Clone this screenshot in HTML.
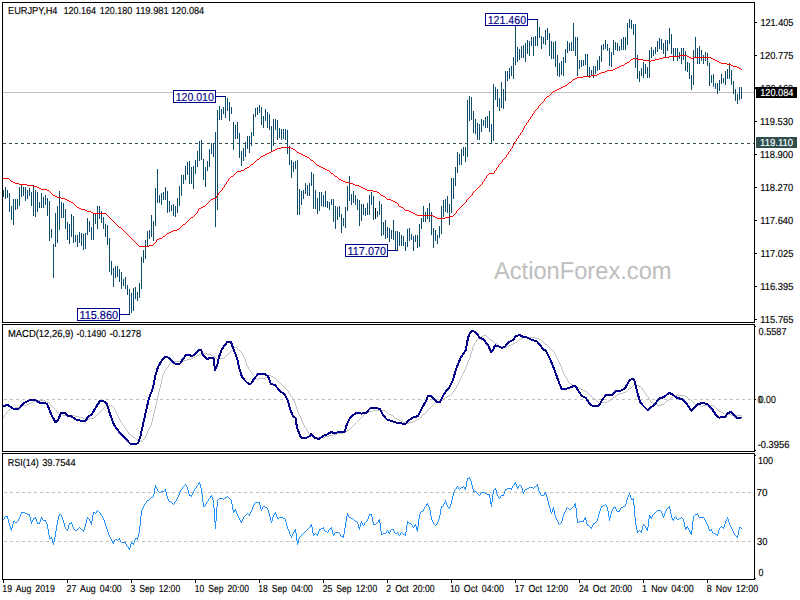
<!DOCTYPE html>
<html><head><meta charset="utf-8"><title>EURJPY H4</title>
<style>html,body{margin:0;padding:0;background:#fff;overflow:hidden}svg{display:block}text{font-family:"Liberation Sans",sans-serif}</style>
</head><body>
<svg width="800" height="600" viewBox="0 0 800 600" text-rendering="geometricPrecision">
<rect x="0" y="0" width="800" height="600" fill="#fff"/>
<text x="494" y="279" font-size="24.5" fill="#bebebe" textLength="177.5" lengthAdjust="spacingAndGlyphs">ActionForex.com</text>
<g shape-rendering="crispEdges">
<rect x="3" y="92" width="751" height="1" fill="#c0c0c0"/>
<line x1="3" y1="143.5" x2="754" y2="143.5" stroke="#2f4f4f" stroke-width="1" stroke-dasharray="3,3"/>
<line x1="4" y1="399.5" x2="754" y2="399.5" stroke="#c0c0c0" stroke-width="1" stroke-dasharray="3,3"/>
<line x1="4" y1="492.5" x2="754" y2="492.5" stroke="#c0c0c0" stroke-width="1" stroke-dasharray="3,3"/>
<line x1="4" y1="541.5" x2="754" y2="541.5" stroke="#c0c0c0" stroke-width="1" stroke-dasharray="3,3"/>
</g>
<path d="M3.5 190V197M5.5 187V199M7.5 190V198M9.5 193V212M11.5 206V220M13.5 199V225M15.5 199V210M17.5 199V209M19.5 187V206M21.5 185V197M23.5 187V196M25.5 187V201M27.5 190V199M29.5 188V196M31.5 192V206M33.5 185V216M35.5 190V217M37.5 192V212M39.5 202V208M41.5 193V208M43.5 197V208M45.5 195V205M47.5 198V216M49.5 201V241M51.5 229V238M53.5 244V278M55.5 213V247M57.5 206V243M59.5 191V230M61.5 202V218M63.5 203V218M65.5 209V229M67.5 222V240M69.5 224V244M71.5 214V237M73.5 216V243M75.5 235V242M77.5 235V247M79.5 232V243M81.5 233V246M83.5 234V250M85.5 233V249M87.5 218V235M89.5 221V232M91.5 227V240M93.5 213V240M95.5 213V224M97.5 206V229M99.5 206V219M101.5 211V223M103.5 217V229M105.5 224V237M107.5 225V245M109.5 238V272M111.5 261V275M113.5 268V287M115.5 266V278M117.5 266V277M119.5 269V282M121.5 272V289M123.5 279V286M125.5 277V289M127.5 285V295M129.5 289V315M131.5 293V313M133.5 288V311M135.5 287V299M137.5 292V301M139.5 283V298M141.5 257V289M143.5 250V263M145.5 240V259M147.5 231V247M149.5 230V239M151.5 215V237M153.5 221V241M155.5 188V226M157.5 169V203M159.5 195V203M161.5 193V205M163.5 192V200M165.5 187V200M167.5 191V213M169.5 201V212M171.5 205V211M173.5 204V216M175.5 206V217M177.5 198V213M179.5 186V206M181.5 175V196M183.5 175V184M185.5 166V180M187.5 162V175M189.5 161V184M191.5 167V184M193.5 166V189M195.5 160V174M197.5 151V167M199.5 141V161M201.5 140V160M203.5 159V180M205.5 167V187M207.5 161V171M209.5 149V167M211.5 143V154M213.5 143V157M215.5 132V227M217.5 110V210M219.5 106V120M221.5 109V120M223.5 107V114M225.5 96V118M227.5 98V111M229.5 102V121M231.5 107V114M233.5 122V150M235.5 125V139M237.5 122V139M239.5 133V158M241.5 151V166M243.5 148V161M245.5 142V157M247.5 136V149M249.5 136V153M251.5 132V146M253.5 114V136M255.5 108V117M257.5 107V115M259.5 105V113M261.5 107V125M263.5 116V128M265.5 109V121M267.5 112V128M269.5 114V130M271.5 126V151M273.5 119V146M275.5 119V130M277.5 120V140M279.5 128V138M281.5 129V140M283.5 129V139M285.5 129V140M287.5 130V154M289.5 146V165M291.5 160V178M293.5 162V172M295.5 161V169M297.5 160V215M299.5 189V215M301.5 191V205M303.5 190V199M305.5 183V194M307.5 185V196M309.5 183V196M311.5 172V186M313.5 174V209M315.5 190V209M317.5 198V214M319.5 192V211M321.5 192V206M323.5 195V207M325.5 191V207M327.5 201V208M329.5 202V210M331.5 199V205M333.5 199V222M335.5 206V229M337.5 207V220M339.5 206V217M341.5 214V233M343.5 218V226M345.5 207V228M347.5 186V211M349.5 176V201M351.5 194V205M353.5 191V203M355.5 195V205M357.5 199V210M359.5 200V226M361.5 204V221M363.5 204V215M365.5 208V216M367.5 203V215M369.5 195V215M371.5 192V205M373.5 196V220M375.5 208V219M377.5 211V217M379.5 201V215M381.5 204V236M383.5 222V235M385.5 220V239M387.5 227V238M389.5 228V242M391.5 230V239M393.5 220V240M395.5 231V251M397.5 231V251M399.5 232V246M401.5 235V246M403.5 236V246M405.5 242V251M407.5 229V247M409.5 228V241M411.5 234V240M413.5 236V251M415.5 235V242M417.5 235V248M419.5 224V247M421.5 218V229M423.5 206V222M425.5 212V222M427.5 208V219M429.5 203V222M431.5 212V235M433.5 228V248M435.5 230V241M437.5 235V244M439.5 226V238M441.5 206V234M443.5 200V217M445.5 199V212M447.5 196V213M449.5 204V225M451.5 178V213M453.5 178V199M455.5 167V186M457.5 152V173M459.5 154V165M461.5 149V165M463.5 147V156M465.5 147V162M467.5 100V157M469.5 96V121M471.5 97V120M473.5 111V133M475.5 119V134M477.5 123V140M479.5 124V140M481.5 119V132M483.5 120V126M485.5 117V128M487.5 116V128M489.5 111V132M491.5 124V143M493.5 84V141M495.5 87V100M497.5 89V107M499.5 98V111M501.5 82V108M503.5 89V109M505.5 71V101M507.5 71V81M509.5 68V79M511.5 66V76M513.5 57V79M515.5 26V65M517.5 47V62M519.5 49V60M521.5 46V58M523.5 45V58M525.5 43V62M527.5 40V54M529.5 41V56M531.5 37V46M533.5 37V56M535.5 36V46M537.5 19V46M539.5 27V38M541.5 36V49M543.5 37V44M545.5 30V45M547.5 28V40M549.5 33V56M551.5 41V59M553.5 42V59M555.5 41V67M557.5 55V76M559.5 63V77M561.5 61V75M563.5 57V76M565.5 49V63M567.5 41V53M569.5 43V51M571.5 42V51M573.5 23V51M575.5 37V56M577.5 37V76M579.5 60V69M581.5 60V67M583.5 60V66M585.5 54V65M587.5 54V76M589.5 67V78M591.5 70V76M593.5 66V78M595.5 66V74M597.5 60V71M599.5 56V70M601.5 45V62M603.5 44V50M605.5 40V49M607.5 44V51M609.5 48V66M611.5 52V67M613.5 40V55M615.5 42V50M617.5 43V51M619.5 46V51M621.5 39V50M623.5 37V50M625.5 37V50M627.5 23V45M629.5 19V28M631.5 20V29M633.5 24V35M635.5 24V68M637.5 55V79M639.5 71V82M641.5 68V76M643.5 62V78M645.5 64V74M647.5 67V78M649.5 50V78M651.5 47V58M653.5 50V56M655.5 47V54M657.5 41V52M659.5 38V49M661.5 39V50M663.5 43V54M665.5 40V57M667.5 40V51M669.5 28V44M671.5 34V54M673.5 48V61M675.5 48V57M677.5 48V61M679.5 52V59M681.5 48V64M683.5 48V60M685.5 51V71M687.5 62V72M689.5 63V79M691.5 75V90M693.5 50V85M695.5 37V58M697.5 48V64M699.5 46V64M701.5 50V61M703.5 55V64M705.5 52V61M707.5 53V66M709.5 63V86M711.5 75V83M713.5 74V87M715.5 83V89M717.5 83V94M719.5 80V91M721.5 74V84M723.5 78V83M725.5 71V85M727.5 69V79M729.5 63V79M731.5 70V85M733.5 81V94M735.5 89V101M737.5 94V104M739.5 87V100M741.5 87V99" stroke="#0c4b69" stroke-width="1" fill="none" shape-rendering="crispEdges"/>
<rect x="375" y="208" width="1" height="11" fill="#000" shape-rendering="crispEdges"/>
<path d="M483 335h3v1h-3zM481 336h2v1h-2zM486 336h1v1h-1zM479 337h2v1h-2zM487 337h1v1h-1zM523 337h12v1h-12zM478 338h1v1h-1zM488 338h1v1h-1zM521 338h2v1h-2zM535 338h4v1h-4zM477 339h1v1h-1zM489 339h2v1h-2zM519 339h2v1h-2zM539 339h2v1h-2zM491 340h2v1h-2zM518 340h1v1h-1zM541 340h1v1h-1zM476 340h1v2h-1zM493 341h1v1h-1zM517 341h1v1h-1zM542 341h1v1h-1zM475 342h1v1h-1zM494 342h1v1h-1zM515 342h2v1h-2zM543 342h1v1h-1zM495 343h2v1h-2zM513 343h2v1h-2zM544 343h1v1h-1zM474 343h1v2h-1zM497 344h1v1h-1zM511 344h2v1h-2zM545 344h2v1h-2zM498 345h1v1h-1zM509 345h2v1h-2zM547 345h1v1h-1zM473 345h1v2h-1zM499 346h6v1h-6zM507 346h2v1h-2zM548 346h1v1h-1zM233 347h4v1h-4zM505 347h2v1h-2zM549 347h1v1h-1zM472 347h1v4h-1zM237 348h1v1h-1zM550 348h1v1h-1zM232 348h1v2h-1zM238 349h1v1h-1zM551 349h1v1h-1zM231 350h1v1h-1zM239 350h1v1h-1zM552 350h1v1h-1zM240 351h1v1h-1zM553 351h1v1h-1zM230 351h1v2h-1zM471 351h1v3h-1zM241 352h1v1h-1zM554 352h1v2h-1zM203 353h4v1h-4zM229 353h1v1h-1zM242 353h1v2h-1zM199 354h4v1h-4zM207 354h4v1h-4zM227 354h2v1h-2zM555 354h1v2h-1zM470 354h1v4h-1zM197 355h2v1h-2zM211 355h2v1h-2zM226 355h1v1h-1zM243 355h1v2h-1zM195 356h2v1h-2zM213 356h2v1h-2zM225 356h1v1h-1zM556 356h1v2h-1zM193 357h2v1h-2zM215 357h1v1h-1zM224 357h1v1h-1zM244 357h1v2h-1zM191 358h2v1h-2zM216 358h1v1h-1zM219 358h5v1h-5zM469 358h1v2h-1zM557 358h1v2h-1zM187 359h4v1h-4zM217 359h2v1h-2zM245 359h1v3h-1zM183 360h4v1h-4zM468 360h1v2h-1zM558 360h1v2h-1zM173 361h10v1h-10zM171 362h2v1h-2zM559 362h1v2h-1zM246 362h1v3h-1zM467 362h1v3h-1zM170 363h1v1h-1zM169 364h1v1h-1zM560 364h1v2h-1zM168 365h1v2h-1zM247 365h1v2h-1zM466 365h1v2h-1zM561 366h1v3h-1zM167 367h1v1h-1zM248 367h1v2h-1zM465 367h1v3h-1zM166 368h1v2h-1zM249 369h1v1h-1zM562 369h1v3h-1zM165 370h1v1h-1zM250 370h1v2h-1zM464 370h1v2h-1zM164 371h1v2h-1zM251 372h1v1h-1zM463 372h1v2h-1zM563 372h1v2h-1zM163 373h1v2h-1zM252 373h1v2h-1zM462 374h1v2h-1zM564 374h1v2h-1zM253 375h1v1h-1zM269 375h2v1h-2zM162 375h1v4h-1zM254 376h1v1h-1zM267 376h2v1h-2zM271 376h2v1h-2zM565 376h1v1h-1zM461 376h1v2h-1zM255 377h1v1h-1zM265 377h2v1h-2zM273 377h2v1h-2zM566 377h1v2h-1zM256 378h1v1h-1zM259 378h6v1h-6zM275 378h1v1h-1zM460 378h1v2h-1zM257 379h2v1h-2zM276 379h1v1h-1zM567 379h1v2h-1zM161 379h1v5h-1zM277 380h1v1h-1zM459 380h1v2h-1zM278 381h1v1h-1zM568 381h1v2h-1zM279 382h1v1h-1zM458 382h1v2h-1zM280 383h1v1h-1zM569 383h2v1h-2zM281 384h1v1h-1zM571 384h2v1h-2zM635 384h2v1h-2zM457 384h1v2h-1zM160 384h1v4h-1zM282 385h1v1h-1zM573 385h1v1h-1zM633 385h2v1h-2zM637 385h2v1h-2zM283 386h1v1h-1zM574 386h1v1h-1zM632 386h1v1h-1zM639 386h2v1h-2zM456 386h1v2h-1zM284 387h1v1h-1zM575 387h4v1h-4zM631 387h1v1h-1zM641 387h1v1h-1zM285 388h1v1h-1zM455 388h1v1h-1zM579 388h2v1h-2zM629 388h2v1h-2zM642 388h1v2h-1zM159 388h1v4h-1zM286 389h1v1h-1zM581 389h2v1h-2zM628 389h1v1h-1zM454 389h1v2h-1zM287 390h1v1h-1zM583 390h2v1h-2zM627 390h1v1h-1zM643 390h1v1h-1zM453 391h1v1h-1zM585 391h2v1h-2zM626 391h1v1h-1zM288 391h1v2h-1zM644 391h1v2h-1zM587 392h1v1h-1zM623 392h3v1h-3zM452 392h1v2h-1zM158 392h1v4h-1zM289 393h1v1h-1zM588 393h1v1h-1zM619 393h4v1h-4zM645 393h1v1h-1zM451 394h1v1h-1zM589 394h1v1h-1zM617 394h2v1h-2zM290 394h1v2h-1zM646 394h1v2h-1zM449 395h2v1h-2zM590 395h1v1h-1zM616 395h1v1h-1zM675 395h10v1h-10zM291 396h1v1h-1zM447 396h2v1h-2zM591 396h1v1h-1zM615 396h1v1h-1zM647 396h1v1h-1zM673 396h2v1h-2zM685 396h2v1h-2zM157 396h1v5h-1zM445 397h2v1h-2zM592 397h1v1h-1zM613 397h2v1h-2zM671 397h2v1h-2zM687 397h1v1h-1zM292 397h1v2h-1zM648 397h1v2h-1zM443 398h2v1h-2zM593 398h2v1h-2zM612 398h1v1h-1zM670 398h1v1h-1zM688 398h1v1h-1zM441 399h2v1h-2zM595 399h1v1h-1zM611 399h1v1h-1zM649 399h1v1h-1zM669 399h1v1h-1zM689 399h2v1h-2zM293 399h1v2h-1zM37 400h8v1h-8zM439 400h2v1h-2zM596 400h1v1h-1zM609 400h2v1h-2zM667 400h2v1h-2zM691 400h1v1h-1zM650 400h1v2h-1zM33 401h4v1h-4zM45 401h2v1h-2zM437 401h2v1h-2zM597 401h1v1h-1zM607 401h2v1h-2zM666 401h1v1h-1zM692 401h1v1h-1zM294 401h1v2h-1zM156 401h1v4h-1zM31 402h2v1h-2zM47 402h2v1h-2zM435 402h2v1h-2zM598 402h1v1h-1zM601 402h6v1h-6zM651 402h2v1h-2zM665 402h1v1h-1zM693 402h1v1h-1zM29 403h2v1h-2zM49 403h1v1h-1zM434 403h1v1h-1zM599 403h2v1h-2zM653 403h2v1h-2zM664 403h1v1h-1zM694 403h1v1h-1zM295 403h1v3h-1zM27 404h2v1h-2zM50 404h1v1h-1zM433 404h1v1h-1zM655 404h2v1h-2zM661 404h3v1h-3zM695 404h4v1h-4zM23 405h4v1h-4zM51 405h1v1h-1zM109 405h3v1h-3zM432 405h1v1h-1zM657 405h4v1h-4zM699 405h2v1h-2zM703 405h11v1h-11zM155 405h1v4h-1zM19 406h4v1h-4zM52 406h1v1h-1zM105 406h4v1h-4zM112 406h1v1h-1zM431 406h1v1h-1zM701 406h2v1h-2zM714 406h1v1h-1zM296 406h1v3h-1zM15 407h4v1h-4zM53 407h1v1h-1zM104 407h1v1h-1zM113 407h1v1h-1zM430 407h1v1h-1zM715 407h1v1h-1zM11 408h4v1h-4zM54 408h1v1h-1zM103 408h1v1h-1zM429 408h1v1h-1zM716 408h1v1h-1zM114 408h1v2h-1zM9 409h2v1h-2zM55 409h1v1h-1zM102 409h1v1h-1zM428 409h1v1h-1zM717 409h1v1h-1zM297 409h1v3h-1zM154 409h1v4h-1zM8 410h1v1h-1zM101 410h1v1h-1zM373 410h12v1h-12zM427 410h1v1h-1zM718 410h1v1h-1zM56 410h1v2h-1zM115 410h1v2h-1zM7 411h1v1h-1zM369 411h4v1h-4zM385 411h2v1h-2zM719 411h2v1h-2zM100 411h1v2h-1zM426 411h1v2h-1zM57 412h2v1h-2zM367 412h2v1h-2zM387 412h1v1h-1zM721 412h2v1h-2zM6 412h1v2h-1zM116 412h1v2h-1zM298 412h1v2h-1zM59 413h2v1h-2zM99 413h1v1h-1zM365 413h2v1h-2zM388 413h1v1h-1zM425 413h1v1h-1zM723 413h2v1h-2zM153 413h1v5h-1zM5 414h1v1h-1zM61 414h2v1h-2zM97 414h2v1h-2zM364 414h1v1h-1zM389 414h2v1h-2zM423 414h2v1h-2zM725 414h6v1h-6zM117 414h1v2h-1zM299 414h1v2h-1zM63 415h12v1h-12zM96 415h1v1h-1zM363 415h1v1h-1zM391 415h2v1h-2zM422 415h1v1h-1zM731 415h11v1h-11zM4 415h1v2h-1zM75 416h4v1h-4zM95 416h1v1h-1zM362 416h1v1h-1zM393 416h1v1h-1zM421 416h1v1h-1zM118 416h1v2h-1zM300 416h1v2h-1zM3 417h1v1h-1zM79 417h4v1h-4zM94 417h1v1h-1zM361 417h1v1h-1zM394 417h1v1h-1zM420 417h1v1h-1zM83 418h4v1h-4zM89 418h5v1h-5zM360 418h1v1h-1zM395 418h2v1h-2zM419 418h1v1h-1zM119 418h1v2h-1zM301 418h1v3h-1zM152 418h1v4h-1zM87 419h2v1h-2zM359 419h1v1h-1zM397 419h2v1h-2zM417 419h2v1h-2zM358 420h1v1h-1zM399 420h2v1h-2zM415 420h2v1h-2zM120 420h1v2h-1zM357 421h1v1h-1zM401 421h2v1h-2zM413 421h2v1h-2zM302 421h1v2h-1zM121 422h1v1h-1zM356 422h1v1h-1zM403 422h4v1h-4zM409 422h4v1h-4zM151 422h1v3h-1zM355 423h1v1h-1zM407 423h2v1h-2zM122 423h1v2h-1zM303 423h1v2h-1zM354 424h1v1h-1zM123 425h1v1h-1zM353 425h1v1h-1zM150 425h1v2h-1zM304 425h1v2h-1zM352 426h1v1h-1zM124 426h1v2h-1zM305 427h1v1h-1zM351 427h1v1h-1zM149 427h1v2h-1zM125 428h1v1h-1zM350 428h1v1h-1zM306 428h1v2h-1zM349 429h1v1h-1zM126 429h1v2h-1zM148 429h1v2h-1zM347 430h2v1h-2zM307 430h1v2h-1zM127 431h1v1h-1zM346 431h1v1h-1zM147 431h1v3h-1zM343 432h3v1h-3zM128 432h1v2h-1zM308 432h1v2h-1zM337 433h6v1h-6zM129 434h2v1h-2zM309 434h2v1h-2zM333 434h4v1h-4zM146 434h1v2h-1zM131 435h1v1h-1zM311 435h2v1h-2zM329 435h4v1h-4zM132 436h1v1h-1zM313 436h2v1h-2zM325 436h4v1h-4zM145 436h1v2h-1zM133 437h2v1h-2zM315 437h10v1h-10zM135 438h1v1h-1zM144 438h1v1h-1zM136 439h1v1h-1zM143 439h1v1h-1zM137 440h4v1h-4zM142 440h1v1h-1zM141 441h1v1h-1z" fill="#c0c0c0" shape-rendering="crispEdges"/>
<polyline points="3,406 8,405 13,408.6 19,408.6 24,403 30,400 36,400.4 40,403 47,403.6 52,416 55.6,422.4 58,420 61,413 65,412.6 68,416 71,416 76,419.4 80,420.6 85.6,420.6 88,417 92,414 96,407 100,401 103,400.6 107,404 110,414 114,425 120,433 126,439 130,443.6 134,444.6 138,443 140,438 144,420 149,398 153,388 155,377 158,367 162,360 165,357 168,357.4 172,361 175,363.6 180,363.6 183,359 186,355 189,355 192,356 195,354.4 199,350 201,350 203,355 207,359 211,357.6 213.6,358 215,370 217,366 219,357 222,349 227,342.4 231,342 233,348 237,358 239,367 242,377 246,381.6 249,384 251,383.6 254,379 258,374 264,373.6 268,376 271,384 275,385 279,390 285,395 288,401 290,409 293,416 295.6,418 297,428 301,437.6 306,438 310,436 311,434 315,438 319,439 324,435.6 328,434 331,432 334,433 340,432 344.4,432.4 347,424 350,418 354,414.4 357,412.6 361,413.6 366,413 370,408.4 374,407.6 380,409 383,415 387,419.6 392,421 398,423.4 406,423.6 409,420 413,417.6 418,416 422,408 426,401 428,396 431,395.6 434,399 437,402.4 440,402 443,396 446,391 449,388 453,380 456,369 461,357 465.6,350.6 468,338 470,332.6 473,330.6 477,334 480,338 483,339 488,345 491,352 493,350 495,345.4 498,346 502,348 505,346.6 509,342 513,340 516,336 520,335 523,337 527,337.4 532,340 537,341.4 543,349 546,351 550,359 553,366 557,377 560,385 561.6,388.6 567,388.6 572,386.6 575.6,386 579,392 582,396 586,398 589,403 592,405.6 599,405.6 602,400 606,395 612,395 616,391 621,390.6 625,388.6 629,381 632,378.6 634,379.4 637,391 640,402 644,406.6 647.6,410 651,407.4 655,404 659,398.6 664,397 669,393 672,394 677,398 682,399 686,403 689,407 691.6,411 695,407 698,404 703,403 708,404.4 712,409 716,415 719,417.6 725,417 728,413 731,412 734,415 737,418.4 741,417.6" fill="none" stroke="#00008b" stroke-width="2" stroke-linejoin="round" stroke-linecap="round" shape-rendering="crispEdges"/>
<path d="M469 477h1v2h-1zM468 478h1v1h-1zM467 478h1v3h-1zM470 479h1v2h-1zM471 481h1v4h-1zM466 481h1v6h-1zM199 482h1v2h-1zM515 482h1v2h-1zM198 483h1v2h-1zM514 483h1v2h-1zM185 484h1v1h-1zM516 484h1v3h-1zM537 484h1v3h-1zM200 484h1v4h-1zM184 485h1v1h-1zM197 485h1v1h-1zM513 485h1v1h-1zM519 485h2v1h-2zM536 485h1v1h-1zM186 485h1v2h-1zM155 485h1v3h-1zM472 485h1v4h-1zM183 486h1v1h-1zM457 486h1v1h-1zM463 486h1v1h-1zM535 486h1v1h-1zM196 486h1v2h-1zM512 486h1v2h-1zM518 486h1v2h-1zM521 486h1v2h-1zM461 487h2v1h-2zM529 487h4v1h-4zM534 487h1v1h-1zM156 487h1v2h-1zM182 487h1v2h-1zM456 487h1v2h-1zM458 487h1v2h-1zM464 487h1v2h-1zM517 487h1v2h-1zM187 487h1v3h-1zM465 487h1v3h-1zM538 487h1v4h-1zM195 488h1v1h-1zM460 488h1v1h-1zM507 488h4v1h-4zM527 488h2v1h-2zM533 488h1v1h-1zM495 488h1v2h-1zM511 488h1v2h-1zM522 488h1v4h-1zM154 488h1v6h-1zM201 488h1v6h-1zM181 489h1v1h-1zM455 489h1v1h-1zM459 489h1v1h-1zM494 489h1v1h-1zM506 489h1v1h-1zM525 489h2v1h-2zM157 489h1v2h-1zM194 489h1v2h-1zM505 489h1v2h-1zM165 489h1v3h-1zM473 489h1v3h-1zM164 490h1v1h-1zM180 490h1v2h-1zM454 490h1v2h-1zM524 490h1v2h-1zM188 490h1v4h-1zM493 490h1v4h-1zM496 490h1v4h-1zM158 491h1v1h-1zM161 491h3v1h-3zM474 491h2v1h-2zM193 491h1v2h-1zM539 491h1v2h-1zM504 491h1v3h-1zM159 492h2v1h-2zM476 492h1v1h-1zM481 492h4v1h-4zM523 492h1v2h-1zM545 492h1v2h-1zM179 492h1v3h-1zM166 492h1v4h-1zM453 492h1v4h-1zM477 493h1v1h-1zM485 493h2v1h-2zM192 493h1v2h-1zM480 493h1v2h-1zM540 493h1v2h-1zM544 493h1v2h-1zM629 493h1v2h-1zM478 494h1v1h-1zM487 494h2v1h-2zM189 494h1v2h-1zM497 494h1v2h-1zM503 494h1v2h-1zM153 494h1v3h-1zM546 494h1v3h-1zM489 494h1v4h-1zM202 494h1v8h-1zM492 494h1v8h-1zM190 495h1v1h-1zM479 495h1v1h-1zM501 495h2v1h-2zM541 495h3v1h-3zM178 495h1v2h-1zM191 495h1v2h-1zM211 495h1v2h-1zM628 495h1v2h-1zM630 495h1v3h-1zM227 496h1v1h-1zM210 496h1v2h-1zM498 496h1v2h-1zM500 496h1v2h-1zM167 496h1v3h-1zM452 496h1v4h-1zM151 497h2v1h-2zM225 497h2v1h-2zM228 497h1v1h-1zM177 497h1v2h-1zM212 497h1v3h-1zM627 497h1v3h-1zM547 497h1v4h-1zM150 498h1v1h-1zM209 498h1v1h-1zM219 498h4v1h-4zM224 498h1v1h-1zM229 498h1v1h-1zM499 498h1v1h-1zM631 498h1v2h-1zM490 498h1v6h-1zM633 498h1v7h-1zM149 499h1v1h-1zM218 499h1v1h-1zM223 499h1v1h-1zM230 499h1v1h-1zM632 499h1v1h-1zM168 499h1v2h-1zM176 499h1v2h-1zM208 499h1v2h-1zM147 500h2v1h-2zM445 500h1v2h-1zM231 500h1v4h-1zM451 500h1v4h-1zM626 500h1v4h-1zM217 500h1v7h-1zM213 500h1v8h-1zM169 501h2v1h-2zM175 501h1v1h-1zM207 501h1v1h-1zM146 501h1v2h-1zM548 501h1v4h-1zM171 502h1v1h-1zM255 502h4v1h-4zM174 502h1v2h-1zM206 502h1v2h-1zM444 502h1v2h-1zM259 502h1v3h-1zM446 502h1v3h-1zM203 502h1v5h-1zM491 502h1v5h-1zM145 503h1v1h-1zM172 503h1v1h-1zM254 503h1v2h-1zM427 503h1v2h-1zM575 503h1v5h-1zM173 504h1v1h-1zM605 504h1v1h-1zM144 504h1v2h-1zM205 504h1v2h-1zM426 504h1v2h-1zM443 504h1v2h-1zM574 504h1v2h-1zM625 504h1v2h-1zM450 504h1v3h-1zM232 504h1v6h-1zM603 505h2v1h-2zM253 505h1v2h-1zM428 505h1v2h-1zM447 505h1v2h-1zM606 505h1v2h-1zM549 505h1v3h-1zM260 505h1v4h-1zM634 505h1v12h-1zM204 506h1v1h-1zM263 506h2v1h-2zM425 506h1v1h-1zM442 506h1v1h-1zM573 506h1v1h-1zM602 506h1v1h-1zM623 506h2v1h-2zM143 506h1v2h-1zM601 506h1v2h-1zM441 506h1v3h-1zM669 506h1v3h-1zM265 507h2v1h-2zM448 507h1v1h-1zM567 507h1v1h-1zM572 507h1v1h-1zM614 507h1v1h-1zM621 507h2v1h-2zM668 507h1v1h-1zM262 507h1v2h-1zM424 507h1v2h-1zM449 507h1v2h-1zM613 507h1v2h-1zM615 507h1v2h-1zM252 507h1v3h-1zM429 507h1v3h-1zM553 507h1v3h-1zM607 507h1v4h-1zM216 507h1v14h-1zM568 508h1v1h-1zM571 508h1v1h-1zM667 508h1v1h-1zM142 508h1v2h-1zM267 508h1v2h-1zM566 508h1v2h-1zM620 508h1v2h-1zM600 508h1v3h-1zM550 508h1v4h-1zM576 508h1v10h-1zM214 508h1v14h-1zM569 509h2v1h-2zM235 509h1v2h-1zM261 509h1v2h-1zM423 509h1v2h-1zM612 509h1v2h-1zM616 509h1v2h-1zM666 509h1v2h-1zM552 509h1v3h-1zM670 509h1v5h-1zM440 509h1v6h-1zM97 510h1v1h-1zM657 510h4v1h-4zM234 510h1v2h-1zM251 510h1v2h-1zM565 510h1v2h-1zM619 510h1v2h-1zM233 510h1v3h-1zM268 510h1v3h-1zM554 510h1v5h-1zM141 510h1v6h-1zM430 510h1v6h-1zM98 511h1v1h-1zM421 511h2v1h-2zM617 511h2v1h-2zM656 511h1v1h-1zM96 511h1v2h-1zM661 511h1v2h-1zM665 511h1v2h-1zM236 511h1v3h-1zM599 511h1v3h-1zM611 511h1v3h-1zM608 511h1v6h-1zM22 512h3v1h-3zM94 512h1v1h-1zM99 512h1v1h-1zM655 512h1v1h-1zM21 512h1v2h-1zM250 512h1v2h-1zM275 512h1v2h-1zM420 512h1v2h-1zM551 512h1v2h-1zM564 512h1v2h-1zM93 512h1v3h-1zM25 513h2v1h-2zM95 513h1v1h-1zM247 513h1v1h-1zM654 513h1v1h-1zM100 513h1v2h-1zM274 513h1v2h-1zM697 513h1v2h-1zM347 513h1v3h-1zM662 513h1v3h-1zM664 513h1v3h-1zM269 513h1v4h-1zM27 514h2v1h-2zM60 514h1v1h-1zM246 514h1v1h-1zM248 514h1v1h-1zM370 514h1v1h-1zM653 514h1v1h-1zM695 514h2v1h-2zM59 514h1v2h-1zM237 514h1v2h-1zM249 514h1v2h-1zM369 514h1v2h-1zM20 514h1v3h-1zM29 514h1v3h-1zM276 514h1v3h-1zM371 514h1v3h-1zM563 514h1v3h-1zM598 514h1v4h-1zM610 514h1v4h-1zM671 514h1v4h-1zM419 514h1v5h-1zM101 515h1v1h-1zM245 515h1v1h-1zM694 515h1v1h-1zM61 515h1v2h-1zM273 515h1v2h-1zM348 515h1v2h-1zM652 515h1v2h-1zM698 515h1v2h-1zM555 515h1v3h-1zM439 515h1v4h-1zM649 515h1v4h-1zM92 515h1v6h-1zM5 516h2v1h-2zM244 516h1v1h-1zM675 516h1v1h-1zM102 516h1v2h-1zM238 516h1v2h-1zM650 516h1v2h-1zM663 516h1v2h-1zM7 516h1v3h-1zM368 516h1v3h-1zM58 516h1v4h-1zM431 516h1v4h-1zM693 516h1v5h-1zM346 516h1v6h-1zM140 516h1v10h-1zM279 517h4v1h-4zM349 517h2v1h-2zM681 517h1v1h-1zM699 517h5v1h-5zM4 517h1v2h-1zM19 517h1v2h-1zM35 517h1v2h-1zM41 517h1v2h-1zM87 517h1v2h-1zM243 517h1v2h-1zM277 517h1v2h-1zM651 517h1v2h-1zM674 517h1v2h-1zM676 517h1v2h-1zM727 517h1v2h-1zM62 517h1v3h-1zM585 517h1v3h-1zM30 517h1v4h-1zM270 517h1v4h-1zM272 517h1v4h-1zM562 517h1v4h-1zM609 517h1v4h-1zM372 517h1v5h-1zM635 517h1v8h-1zM34 518h1v1h-1zM88 518h1v1h-1zM278 518h1v1h-1zM283 518h2v1h-2zM351 518h2v1h-2zM679 518h2v1h-2zM682 518h1v1h-1zM33 518h1v2h-1zM42 518h1v2h-1zM103 518h1v2h-1zM239 518h1v2h-1zM556 518h1v2h-1zM584 518h1v2h-1zM672 518h1v2h-1zM704 518h1v2h-1zM597 518h1v3h-1zM577 518h1v5h-1zM3 519h1v1h-1zM353 519h1v1h-1zM677 519h2v1h-2zM18 519h1v2h-1zM89 519h1v2h-1zM242 519h1v2h-1zM367 519h1v2h-1zM673 519h1v2h-1zM726 519h1v2h-1zM36 519h1v3h-1zM40 519h1v3h-1zM285 519h1v3h-1zM438 519h1v3h-1zM683 519h1v3h-1zM728 519h1v3h-1zM8 519h1v4h-1zM86 519h1v4h-1zM379 519h1v4h-1zM418 519h1v8h-1zM648 519h1v8h-1zM43 520h2v1h-2zM354 520h1v1h-1zM32 520h1v2h-1zM45 520h1v2h-1zM240 520h1v2h-1zM378 520h1v2h-1zM432 520h1v2h-1zM557 520h1v2h-1zM583 520h1v2h-1zM705 520h1v2h-1zM63 520h1v3h-1zM104 520h1v3h-1zM586 520h1v4h-1zM57 520h1v5h-1zM14 521h1v1h-1zM17 521h1v1h-1zM355 521h2v1h-2zM366 521h1v1h-1zM579 521h4v1h-4zM596 521h1v1h-1zM90 521h1v2h-1zM241 521h1v2h-1zM271 521h1v2h-1zM361 521h1v2h-1zM561 521h1v2h-1zM13 521h1v3h-1zM31 521h1v3h-1zM725 521h1v3h-1zM91 521h1v4h-1zM407 521h1v4h-1zM215 521h1v8h-1zM692 521h1v9h-1zM15 522h2v1h-2zM365 522h1v1h-1zM377 522h1v1h-1zM408 522h1v1h-1zM578 522h1v1h-1zM595 522h1v1h-1zM37 522h1v2h-1zM39 522h1v2h-1zM46 522h1v2h-1zM71 522h1v2h-1zM357 522h1v2h-1zM433 522h1v2h-1zM437 522h1v2h-1zM558 522h1v2h-1zM706 522h1v2h-1zM373 522h1v3h-1zM729 522h1v3h-1zM286 522h1v4h-1zM684 522h1v5h-1zM345 522h1v6h-1zM38 523h1v1h-1zM70 523h1v1h-1zM376 523h1v1h-1zM409 523h2v1h-2zM560 523h1v1h-1zM594 523h1v1h-1zM69 523h1v2h-1zM362 523h1v2h-1zM364 523h1v2h-1zM593 523h1v2h-1zM9 523h1v3h-1zM105 523h1v3h-1zM64 523h1v4h-1zM85 523h1v4h-1zM360 523h1v4h-1zM380 523h1v8h-1zM374 524h2v1h-2zM411 524h1v1h-1zM434 524h1v1h-1zM436 524h1v1h-1zM559 524h1v1h-1zM415 524h1v2h-1zM587 524h1v2h-1zM643 524h1v2h-1zM707 524h1v2h-1zM72 524h1v3h-1zM311 524h1v3h-1zM724 524h1v3h-1zM12 524h1v4h-1zM358 524h1v4h-1zM47 524h1v5h-1zM363 525h1v1h-1zM435 525h1v1h-1zM588 525h1v1h-1zM644 525h1v1h-1zM310 525h1v2h-1zM412 525h1v2h-1zM414 525h1v2h-1zM592 525h1v2h-1zM730 525h1v2h-1zM68 525h1v4h-1zM636 525h1v5h-1zM56 525h1v6h-1zM406 525h1v7h-1zM589 526h1v1h-1zM721 526h1v1h-1zM645 526h1v2h-1zM687 526h1v2h-1zM10 526h1v3h-1zM106 526h1v3h-1zM287 526h1v3h-1zM708 526h1v3h-1zM416 526h1v4h-1zM642 526h1v4h-1zM139 526h1v7h-1zM79 527h1v1h-1zM309 527h1v1h-1zM413 527h1v1h-1zM590 527h1v1h-1zM720 527h1v1h-1zM722 527h1v1h-1zM740 527h1v1h-1zM65 527h1v2h-1zM73 527h1v2h-1zM323 527h1v2h-1zM591 527h1v2h-1zM686 527h1v2h-1zM723 527h1v2h-1zM731 527h1v2h-1zM84 527h1v3h-1zM331 527h1v3h-1zM359 527h1v3h-1zM685 527h1v3h-1zM739 527h1v3h-1zM647 527h1v4h-1zM417 527h1v5h-1zM312 527h1v6h-1zM78 528h1v1h-1zM80 528h1v1h-1zM308 528h1v1h-1zM321 528h2v1h-2zM330 528h1v1h-1zM741 528h1v1h-1zM646 528h1v2h-1zM688 528h1v2h-1zM719 528h1v2h-1zM11 528h1v3h-1zM344 528h1v6h-1zM66 529h1v1h-1zM74 529h1v1h-1zM77 529h1v1h-1zM81 529h1v1h-1zM307 529h1v1h-1zM320 529h1v1h-1zM329 529h1v1h-1zM391 529h2v1h-2zM67 529h1v2h-1zM288 529h1v2h-1zM319 529h1v2h-1zM324 529h1v2h-1zM393 529h1v2h-1zM709 529h1v2h-1zM711 529h1v2h-1zM732 529h1v2h-1zM107 529h1v3h-1zM295 529h1v4h-1zM48 529h1v6h-1zM75 530h2v1h-2zM82 530h1v1h-1zM306 530h1v1h-1zM387 530h1v1h-1zM639 530h1v1h-1zM710 530h1v1h-1zM83 530h1v2h-1zM294 530h1v2h-1zM328 530h1v2h-1zM390 530h1v2h-1zM689 530h1v2h-1zM637 530h1v3h-1zM641 530h1v3h-1zM332 530h1v4h-1zM718 530h1v4h-1zM691 530h1v5h-1zM738 530h1v5h-1zM305 531h1v1h-1zM325 531h2v1h-2zM638 531h1v1h-1zM640 531h1v1h-1zM386 531h1v2h-1zM388 531h1v2h-1zM394 531h1v2h-1zM712 531h1v2h-1zM733 531h1v2h-1zM289 531h1v3h-1zM318 531h1v3h-1zM381 531h1v4h-1zM55 531h1v6h-1zM304 532h1v1h-1zM327 532h1v1h-1zM335 532h4v1h-4zM397 532h1v1h-1zM401 532h1v1h-1zM293 532h1v2h-1zM389 532h1v2h-1zM690 532h1v2h-1zM108 532h1v3h-1zM405 532h1v4h-1zM303 533h1v1h-1zM315 533h1v1h-1zM339 533h1v1h-1zM383 533h3v1h-3zM395 533h2v1h-2zM402 533h1v1h-1zM713 533h2v1h-2zM334 533h1v2h-1zM398 533h1v2h-1zM400 533h1v2h-1zM734 533h1v2h-1zM313 533h1v3h-1zM138 533h1v4h-1zM296 533h1v8h-1zM302 534h1v1h-1zM314 534h1v1h-1zM316 534h1v1h-1zM382 534h1v1h-1zM403 534h2v1h-2zM715 534h2v1h-2zM290 534h1v2h-1zM292 534h1v2h-1zM317 534h1v2h-1zM333 534h1v2h-1zM340 534h1v2h-1zM717 534h1v2h-1zM343 534h1v4h-1zM301 535h1v1h-1zM399 535h1v1h-1zM735 535h1v1h-1zM109 535h1v2h-1zM737 535h1v3h-1zM49 535h1v4h-1zM300 536h1v1h-1zM341 536h2v1h-2zM736 536h1v1h-1zM291 536h1v2h-1zM51 537h1v2h-1zM110 537h1v2h-1zM299 537h1v2h-1zM137 537h1v3h-1zM54 537h1v5h-1zM50 538h1v1h-1zM136 538h1v1h-1zM119 538h1v2h-1zM135 538h1v2h-1zM115 539h2v1h-2zM118 539h1v1h-1zM111 539h1v2h-1zM52 539h1v4h-1zM298 539h1v4h-1zM117 540h1v1h-1zM114 540h1v2h-1zM120 540h1v2h-1zM134 540h1v3h-1zM112 541h1v2h-1zM297 541h1v4h-1zM121 542h4v1h-4zM113 542h1v2h-1zM125 542h1v2h-1zM131 542h1v2h-1zM53 542h1v3h-1zM132 543h1v1h-1zM133 543h1v2h-1zM126 544h1v2h-1zM130 544h1v4h-1zM127 546h1v1h-1zM128 547h1v2h-1zM129 548h1v2h-1z" fill="#1e90ff" shape-rendering="crispEdges"/>
<path d="M679 55h8v1h-8zM669 56h10v1h-10zM687 56h2v1h-2zM663 57h6v1h-6zM689 57h2v1h-2zM693 57h18v1h-18zM633 58h4v1h-4zM659 58h4v1h-4zM691 58h2v1h-2zM711 58h2v1h-2zM631 59h2v1h-2zM637 59h6v1h-6zM655 59h4v1h-4zM713 59h2v1h-2zM630 60h1v1h-1zM643 60h6v1h-6zM651 60h4v1h-4zM715 60h2v1h-2zM629 61h1v1h-1zM649 61h2v1h-2zM717 61h2v1h-2zM627 62h2v1h-2zM719 62h2v1h-2zM625 63h2v1h-2zM721 63h6v1h-6zM624 64h1v1h-1zM727 64h4v1h-4zM621 65h3v1h-3zM731 65h2v1h-2zM619 66h2v1h-2zM733 66h4v1h-4zM617 67h2v1h-2zM737 67h2v1h-2zM615 68h2v1h-2zM739 68h2v1h-2zM613 69h2v1h-2zM741 69h1v1h-1zM607 70h6v1h-6zM605 71h2v1h-2zM601 72h4v1h-4zM599 73h2v1h-2zM597 74h2v1h-2zM591 75h6v1h-6zM583 76h8v1h-8zM577 77h6v1h-6zM575 78h2v1h-2zM573 79h2v1h-2zM572 80h1v1h-1zM571 81h1v1h-1zM569 82h2v1h-2zM568 83h1v1h-1zM567 84h1v1h-1zM565 85h2v1h-2zM563 86h2v1h-2zM561 87h2v1h-2zM559 88h2v1h-2zM557 89h2v1h-2zM555 90h2v1h-2zM553 91h2v1h-2zM552 92h1v1h-1zM551 93h1v1h-1zM550 94h1v1h-1zM549 95h1v1h-1zM547 96h2v1h-2zM546 97h1v1h-1zM545 98h1v1h-1zM544 99h1v2h-1zM543 101h1v1h-1zM542 102h1v1h-1zM541 103h1v1h-1zM540 104h1v1h-1zM539 105h1v1h-1zM538 106h1v2h-1zM537 108h1v1h-1zM536 109h1v1h-1zM535 110h1v1h-1zM534 111h1v2h-1zM533 113h1v1h-1zM532 114h1v2h-1zM531 116h1v1h-1zM530 117h1v2h-1zM529 119h1v1h-1zM528 120h1v2h-1zM527 122h1v1h-1zM526 123h1v2h-1zM525 125h1v1h-1zM524 126h1v2h-1zM523 128h1v2h-1zM522 130h1v2h-1zM521 132h1v1h-1zM520 133h1v2h-1zM519 135h1v1h-1zM518 136h1v2h-1zM517 138h1v1h-1zM516 139h1v2h-1zM515 141h1v1h-1zM514 142h1v2h-1zM513 144h1v2h-1zM512 146h1v2h-1zM281 147h10v1h-10zM277 148h4v1h-4zM291 148h2v1h-2zM511 148h1v1h-1zM275 149h2v1h-2zM293 149h2v1h-2zM510 149h1v2h-1zM273 150h2v1h-2zM295 150h1v1h-1zM271 151h2v1h-2zM296 151h1v1h-1zM509 151h1v1h-1zM269 152h2v1h-2zM297 152h2v1h-2zM508 152h1v2h-1zM267 153h2v1h-2zM299 153h2v1h-2zM265 154h2v1h-2zM301 154h2v1h-2zM507 154h1v1h-1zM263 155h2v1h-2zM303 155h2v1h-2zM506 155h1v2h-1zM261 156h2v1h-2zM305 156h2v1h-2zM260 157h1v1h-1zM307 157h2v1h-2zM505 157h1v1h-1zM259 158h1v1h-1zM309 158h1v1h-1zM504 158h1v1h-1zM257 159h2v1h-2zM310 159h1v1h-1zM503 159h1v1h-1zM256 160h1v1h-1zM311 160h2v1h-2zM502 160h1v2h-1zM255 161h1v1h-1zM313 161h1v1h-1zM254 162h1v1h-1zM314 162h1v1h-1zM501 162h1v1h-1zM253 163h1v1h-1zM315 163h1v1h-1zM500 163h1v1h-1zM251 164h2v1h-2zM316 164h1v1h-1zM499 164h1v1h-1zM250 165h1v1h-1zM317 165h2v1h-2zM498 165h1v2h-1zM249 166h1v1h-1zM319 166h2v1h-2zM247 167h2v1h-2zM321 167h2v1h-2zM497 167h1v1h-1zM245 168h2v1h-2zM323 168h2v1h-2zM496 168h1v2h-1zM244 169h1v1h-1zM325 169h2v1h-2zM241 170h3v1h-3zM327 170h2v1h-2zM495 170h1v1h-1zM237 171h4v1h-4zM329 171h1v1h-1zM494 171h1v2h-1zM236 172h1v1h-1zM330 172h1v1h-1zM235 173h1v1h-1zM331 173h2v1h-2zM489 173h5v1h-5zM234 174h1v1h-1zM333 174h1v1h-1zM488 174h1v1h-1zM233 175h1v1h-1zM334 175h1v1h-1zM487 175h1v1h-1zM231 176h2v1h-2zM335 176h2v1h-2zM486 176h1v2h-1zM230 177h1v1h-1zM337 177h1v1h-1zM3 178h6v1h-6zM229 178h1v1h-1zM338 178h1v1h-1zM485 178h1v1h-1zM9 179h1v1h-1zM339 179h2v1h-2zM228 179h1v2h-1zM484 179h1v2h-1zM10 180h1v1h-1zM341 180h2v1h-2zM11 181h2v1h-2zM227 181h1v1h-1zM343 181h2v1h-2zM483 181h1v1h-1zM13 182h2v1h-2zM345 182h4v1h-4zM226 182h1v2h-1zM482 182h1v2h-1zM15 183h4v1h-4zM349 183h4v1h-4zM19 184h8v1h-8zM225 184h1v1h-1zM353 184h2v1h-2zM481 184h1v1h-1zM27 185h6v1h-6zM355 185h4v1h-4zM480 185h1v1h-1zM224 185h1v2h-1zM33 186h4v1h-4zM359 186h2v1h-2zM479 186h1v1h-1zM37 187h2v1h-2zM223 187h1v1h-1zM361 187h2v1h-2zM478 187h1v1h-1zM39 188h2v1h-2zM363 188h2v1h-2zM477 188h1v1h-1zM222 188h1v2h-1zM41 189h6v1h-6zM365 189h2v1h-2zM476 189h1v1h-1zM47 190h2v1h-2zM221 190h1v1h-1zM367 190h6v1h-6zM475 190h1v1h-1zM49 191h1v1h-1zM220 191h1v1h-1zM373 191h4v1h-4zM474 191h1v1h-1zM50 192h1v1h-1zM219 192h1v1h-1zM377 192h2v1h-2zM473 192h1v1h-1zM51 193h1v1h-1zM379 193h1v1h-1zM218 193h1v2h-1zM472 193h1v2h-1zM52 194h1v1h-1zM380 194h1v1h-1zM53 195h2v1h-2zM217 195h1v1h-1zM381 195h2v1h-2zM471 195h1v1h-1zM55 196h2v1h-2zM383 196h2v1h-2zM470 196h1v1h-1zM216 196h1v2h-1zM57 197h4v1h-4zM385 197h1v1h-1zM469 197h1v1h-1zM61 198h4v1h-4zM213 198h3v1h-3zM386 198h1v1h-1zM468 198h1v1h-1zM65 199h2v1h-2zM211 199h2v1h-2zM387 199h4v1h-4zM467 199h1v1h-1zM67 200h2v1h-2zM210 200h1v1h-1zM391 200h2v1h-2zM466 200h1v2h-1zM69 201h2v1h-2zM209 201h1v1h-1zM393 201h2v1h-2zM71 202h2v1h-2zM208 202h1v1h-1zM395 202h2v1h-2zM465 202h1v1h-1zM73 203h1v1h-1zM207 203h1v1h-1zM397 203h1v1h-1zM464 203h1v1h-1zM74 204h1v1h-1zM206 204h1v1h-1zM463 204h1v1h-1zM398 204h1v2h-1zM75 205h1v1h-1zM205 205h1v1h-1zM462 205h1v1h-1zM76 206h1v1h-1zM203 206h2v1h-2zM399 206h2v1h-2zM461 206h1v1h-1zM77 207h2v1h-2zM201 207h2v1h-2zM401 207h2v1h-2zM460 207h1v1h-1zM79 208h2v1h-2zM199 208h2v1h-2zM403 208h1v1h-1zM459 208h1v1h-1zM81 209h4v1h-4zM404 209h1v1h-1zM458 209h1v1h-1zM198 209h1v2h-1zM85 210h2v1h-2zM405 210h4v1h-4zM457 210h1v1h-1zM87 211h4v1h-4zM409 211h2v1h-2zM197 211h1v2h-1zM456 211h1v2h-1zM91 212h2v1h-2zM411 212h2v1h-2zM93 213h13v1h-13zM196 213h1v1h-1zM413 213h2v1h-2zM455 213h1v1h-1zM106 214h1v1h-1zM195 214h1v1h-1zM415 214h2v1h-2zM454 214h1v1h-1zM107 215h1v1h-1zM194 215h1v1h-1zM417 215h16v1h-16zM453 215h1v1h-1zM108 216h1v1h-1zM193 216h1v1h-1zM433 216h2v1h-2zM449 216h4v1h-4zM109 217h1v1h-1zM191 217h2v1h-2zM435 217h2v1h-2zM445 217h4v1h-4zM110 218h1v1h-1zM190 218h1v1h-1zM437 218h8v1h-8zM111 219h1v1h-1zM189 219h1v1h-1zM112 220h1v1h-1zM188 220h1v1h-1zM113 221h1v1h-1zM187 221h1v1h-1zM114 222h1v1h-1zM186 222h1v1h-1zM115 223h1v1h-1zM185 223h1v1h-1zM116 224h1v1h-1zM183 224h2v1h-2zM117 225h1v1h-1zM182 225h1v1h-1zM118 226h1v1h-1zM181 226h1v1h-1zM119 227h2v1h-2zM180 227h1v1h-1zM121 228h1v1h-1zM179 228h1v1h-1zM122 229h1v1h-1zM177 229h2v1h-2zM123 230h1v1h-1zM173 230h4v1h-4zM124 231h1v1h-1zM171 231h2v1h-2zM125 232h1v1h-1zM169 232h2v1h-2zM126 233h1v1h-1zM167 233h2v1h-2zM127 234h1v1h-1zM166 234h1v1h-1zM128 235h1v1h-1zM165 235h1v1h-1zM129 236h1v1h-1zM163 236h2v1h-2zM130 237h1v1h-1zM162 237h1v1h-1zM131 238h1v1h-1zM159 238h3v1h-3zM132 239h1v1h-1zM157 239h2v1h-2zM133 240h1v1h-1zM156 240h1v2h-1zM134 241h1v1h-1zM135 242h1v1h-1zM155 242h1v1h-1zM136 243h1v1h-1zM154 243h1v1h-1zM137 244h1v1h-1zM153 244h1v1h-1zM138 245h1v1h-1zM149 245h4v1h-4zM139 246h10v1h-10z" fill="#ff0000" shape-rendering="crispEdges"/>
<g shape-rendering="crispEdges" fill="#000">
<rect x="2" y="2" width="1" height="321"/>
<rect x="2" y="2" width="753" height="1"/>
<rect x="2" y="322" width="753" height="1"/>
<rect x="754" y="2" width="1" height="321"/>
<rect x="754" y="324" width="1" height="128"/>
<rect x="754" y="453" width="1" height="127"/>
<rect x="2" y="324" width="753" height="1"/>
<rect x="2" y="324" width="1" height="128"/>
<rect x="2" y="451" width="753" height="1"/>
<rect x="2" y="453" width="753" height="1"/>
<rect x="2" y="453" width="1" height="127"/>
<rect x="2" y="579" width="753" height="1"/>
<rect x="755" y="22" width="2" height="1"/>
<rect x="755" y="55" width="2" height="1"/>
<rect x="755" y="88" width="2" height="1"/>
<rect x="755" y="121" width="2" height="1"/>
<rect x="755" y="154" width="2" height="1"/>
<rect x="755" y="187" width="2" height="1"/>
<rect x="755" y="220" width="2" height="1"/>
<rect x="755" y="253" width="2" height="1"/>
<rect x="755" y="286" width="2" height="1"/>
<rect x="755" y="319" width="2" height="1"/>
<rect x="755" y="326" width="1" height="1"/>
<rect x="755" y="399" width="1" height="1"/>
<rect x="755" y="450" width="1" height="1"/>
<rect x="755" y="455" width="1" height="1"/>
<rect x="755" y="578" width="1" height="1"/>
<rect x="3" y="580" width="1" height="3"/>
<rect x="67" y="580" width="1" height="3"/>
<rect x="131" y="580" width="1" height="3"/>
<rect x="195" y="580" width="1" height="3"/>
<rect x="259" y="580" width="1" height="3"/>
<rect x="323" y="580" width="1" height="3"/>
<rect x="387" y="580" width="1" height="3"/>
<rect x="451" y="580" width="1" height="3"/>
<rect x="515" y="580" width="1" height="3"/>
<rect x="579" y="580" width="1" height="3"/>
<rect x="643" y="580" width="1" height="3"/>
<rect x="707" y="580" width="1" height="3"/>
</g>
<text x="760.38" y="26" font-size="10.2" fill="#000" stroke="#000" stroke-width="0.15" word-spacing="2" textLength="32.97" lengthAdjust="spacingAndGlyphs">121.405</text>
<text x="759.80" y="59" font-size="10.2" fill="#000" stroke="#000" stroke-width="0.15" word-spacing="2" textLength="33.72" lengthAdjust="spacingAndGlyphs">120.775</text>
<text x="760.42" y="92" font-size="10.2" fill="#000" stroke="#000" stroke-width="0.15" word-spacing="2" textLength="32.67" lengthAdjust="spacingAndGlyphs">120.160</text>
<text x="760.08" y="125" font-size="10.2" fill="#000" stroke="#000" stroke-width="0.15" word-spacing="2" textLength="33.16" lengthAdjust="spacingAndGlyphs">119.530</text>
<text x="760.09" y="158" font-size="10.2" fill="#000" stroke="#000" stroke-width="0.15" word-spacing="2" textLength="33.15" lengthAdjust="spacingAndGlyphs">118.900</text>
<text x="760.13" y="191" font-size="10.2" fill="#000" stroke="#000" stroke-width="0.15" word-spacing="2" textLength="33.10" lengthAdjust="spacingAndGlyphs">118.270</text>
<text x="760.15" y="224" font-size="10.2" fill="#000" stroke="#000" stroke-width="0.15" word-spacing="2" textLength="33.08" lengthAdjust="spacingAndGlyphs">117.640</text>
<text x="760.45" y="257" font-size="10.2" fill="#000" stroke="#000" stroke-width="0.15" word-spacing="2" textLength="32.97" lengthAdjust="spacingAndGlyphs">117.025</text>
<text x="760.15" y="290" font-size="10.2" fill="#000" stroke="#000" stroke-width="0.15" word-spacing="2" textLength="33.26" lengthAdjust="spacingAndGlyphs">116.395</text>
<text x="760.37" y="323" font-size="10.2" fill="#000" stroke="#000" stroke-width="0.15" word-spacing="2" textLength="33.16" lengthAdjust="spacingAndGlyphs">115.765</text>
<rect x="756" y="87" width="41" height="11" fill="#000" shape-rendering="crispEdges"/>
<rect x="755" y="87" width="1" height="2" fill="#000" shape-rendering="crispEdges"/>
<rect x="756" y="137" width="41" height="11" fill="#2f4f4f" shape-rendering="crispEdges"/>
<g shape-rendering="crispEdges"><rect x="173.5" y="90.5" width="42" height="12" fill="#fff" stroke="#00008b" stroke-width="1"/>
<rect x="216" y="96" width="10" height="1" fill="#00008b"/></g>
<g shape-rendering="crispEdges"><rect x="485.5" y="13.5" width="42" height="12" fill="#fff" stroke="#00008b" stroke-width="1"/>
<rect x="528" y="19" width="10" height="1" fill="#00008b"/></g>
<g shape-rendering="crispEdges"><rect x="345.5" y="244.5" width="42" height="12" fill="#fff" stroke="#00008b" stroke-width="1"/>
<rect x="388" y="250" width="10" height="1" fill="#00008b"/></g>
<g shape-rendering="crispEdges"><rect x="77.5" y="308.5" width="42" height="12" fill="#fff" stroke="#00008b" stroke-width="1"/>
<rect x="120" y="314" width="10" height="1" fill="#00008b"/></g>
<text x="760.14" y="96" font-size="10.2" fill="#fff" stroke="#fff" stroke-width="0.15" word-spacing="2" textLength="33.33" lengthAdjust="spacingAndGlyphs">120.084</text>
<text x="760.08" y="146" font-size="10.2" fill="#fff" stroke="#fff" stroke-width="0.15" word-spacing="2" textLength="33.11" lengthAdjust="spacingAndGlyphs">119.110</text>
<text x="758.61" y="335" font-size="10.2" fill="#000" stroke="#000" stroke-width="0.15" word-spacing="2" textLength="27.89" lengthAdjust="spacingAndGlyphs">0.5587</text>
<text x="758.70" y="403" font-size="10.2" fill="#000" stroke="#000" stroke-width="0.15" word-spacing="2" textLength="17.11" lengthAdjust="spacingAndGlyphs">0.00</text>
<text x="757.86" y="403" font-size="10.2" fill="#000" stroke="#000" stroke-width="0.15" word-spacing="2" textLength="4.15" lengthAdjust="spacingAndGlyphs">0</text>
<text x="757.63" y="448" font-size="10.2" fill="#000" stroke="#000" stroke-width="0.15" word-spacing="2" textLength="31.78" lengthAdjust="spacingAndGlyphs">-0.3956</text>
<text x="758.09" y="464" font-size="10.2" fill="#000" stroke="#000" stroke-width="0.15" word-spacing="2" textLength="15.06" lengthAdjust="spacingAndGlyphs">100</text>
<text x="756.47" y="496" font-size="10.2" fill="#000" stroke="#000" stroke-width="0.15" word-spacing="2" textLength="11.07" lengthAdjust="spacingAndGlyphs">70</text>
<text x="757.01" y="545" font-size="10.2" fill="#000" stroke="#000" stroke-width="0.15" word-spacing="2" textLength="10.46" lengthAdjust="spacingAndGlyphs">30</text>
<text x="758.40" y="576" font-size="10.2" fill="#000" stroke="#000" stroke-width="0.15" word-spacing="2" textLength="4.93" lengthAdjust="spacingAndGlyphs">0</text>
<text x="8.00" y="14" font-size="10.2" fill="#000" stroke="#000" stroke-width="0.15" word-spacing="2" textLength="49.47" lengthAdjust="spacingAndGlyphs">EURJPY,H4</text>
<text x="63.39" y="14" font-size="10.2" fill="#000" stroke="#000" stroke-width="0.15" word-spacing="2" textLength="32.79" lengthAdjust="spacingAndGlyphs">120.164</text>
<text x="99.66" y="14" font-size="10.2" fill="#000" stroke="#000" stroke-width="0.15" word-spacing="2" textLength="32.49" lengthAdjust="spacingAndGlyphs">120.180</text>
<text x="135.62" y="14" font-size="10.2" fill="#000" stroke="#000" stroke-width="0.15" word-spacing="2" textLength="33.19" lengthAdjust="spacingAndGlyphs">119.981</text>
<text x="171.00" y="14" font-size="10.2" fill="#000" stroke="#000" stroke-width="0.15" word-spacing="2" textLength="33.21" lengthAdjust="spacingAndGlyphs">120.084</text>
<text x="7.92" y="337" font-size="10.2" fill="#000" stroke="#000" stroke-width="0.15" word-spacing="2" textLength="65.57" lengthAdjust="spacingAndGlyphs">MACD(12,26,9)</text>
<text x="76.61" y="337" font-size="10.2" fill="#000" stroke="#000" stroke-width="0.15" word-spacing="2" textLength="29.49" lengthAdjust="spacingAndGlyphs">-0.1490</text>
<text x="109.63" y="337" font-size="10.2" fill="#000" stroke="#000" stroke-width="0.15" word-spacing="2" textLength="31.56" lengthAdjust="spacingAndGlyphs">-0.1278</text>
<text x="7.78" y="466" font-size="10.2" fill="#000" stroke="#000" stroke-width="0.15" word-spacing="2" textLength="31.02" lengthAdjust="spacingAndGlyphs">RSI(14)</text>
<text x="42.20" y="466" font-size="10.2" fill="#000" stroke="#000" stroke-width="0.15" word-spacing="2" textLength="33.34" lengthAdjust="spacingAndGlyphs">39.7544</text>
<text x="2.35" y="592" font-size="10.2" fill="#000" stroke="#000" stroke-width="0.15" word-spacing="2" textLength="52.45" lengthAdjust="spacingAndGlyphs">19 Aug 2019</text>
<text x="66.61" y="592" font-size="10.2" fill="#000" stroke="#000" stroke-width="0.15" word-spacing="2" textLength="55.15" lengthAdjust="spacingAndGlyphs">27 Aug 04:00</text>
<text x="130.44" y="592" font-size="10.2" fill="#000" stroke="#000" stroke-width="0.15" word-spacing="2" textLength="49.75" lengthAdjust="spacingAndGlyphs">3 Sep 12:00</text>
<text x="194.86" y="592" font-size="10.2" fill="#000" stroke="#000" stroke-width="0.15" word-spacing="2" textLength="54.02" lengthAdjust="spacingAndGlyphs">10 Sep 20:00</text>
<text x="258.23" y="592" font-size="10.2" fill="#000" stroke="#000" stroke-width="0.15" word-spacing="2" textLength="54.51" lengthAdjust="spacingAndGlyphs">18 Sep 04:00</text>
<text x="322.65" y="592" font-size="10.2" fill="#000" stroke="#000" stroke-width="0.15" word-spacing="2" textLength="54.55" lengthAdjust="spacingAndGlyphs">25 Sep 12:00</text>
<text x="386.27" y="592" font-size="10.2" fill="#000" stroke="#000" stroke-width="0.15" word-spacing="2" textLength="48.35" lengthAdjust="spacingAndGlyphs">2 Oct 20:00</text>
<text x="449.88" y="592" font-size="10.2" fill="#000" stroke="#000" stroke-width="0.15" word-spacing="2" textLength="53.98" lengthAdjust="spacingAndGlyphs">10 Oct 04:00</text>
<text x="514.71" y="592" font-size="10.2" fill="#000" stroke="#000" stroke-width="0.15" word-spacing="2" textLength="53.35" lengthAdjust="spacingAndGlyphs">17 Oct 12:00</text>
<text x="578.88" y="592" font-size="10.2" fill="#000" stroke="#000" stroke-width="0.15" word-spacing="2" textLength="53.22" lengthAdjust="spacingAndGlyphs">24 Oct 20:00</text>
<text x="641.96" y="592" font-size="10.2" fill="#000" stroke="#000" stroke-width="0.15" word-spacing="2" textLength="51.82" lengthAdjust="spacingAndGlyphs">1 Nov 04:00</text>
<text x="706.69" y="592" font-size="10.2" fill="#000" stroke="#000" stroke-width="0.15" word-spacing="2" textLength="51.42" lengthAdjust="spacingAndGlyphs">8 Nov 12:00</text>
<text x="175.64" y="101" font-size="11.6" fill="#00008b" stroke="#00008b" stroke-width="0.15" word-spacing="2" textLength="38.25" lengthAdjust="spacingAndGlyphs">120.010</text>
<text x="487.68" y="24" font-size="11.6" fill="#00008b" stroke="#00008b" stroke-width="0.15" word-spacing="2" textLength="38.41" lengthAdjust="spacingAndGlyphs">121.460</text>
<text x="347.61" y="255" font-size="11.6" fill="#00008b" stroke="#00008b" stroke-width="0.15" word-spacing="2" textLength="38.37" lengthAdjust="spacingAndGlyphs">117.070</text>
<text x="79.53" y="319" font-size="11.6" fill="#00008b" stroke="#00008b" stroke-width="0.15" word-spacing="2" textLength="38.51" lengthAdjust="spacingAndGlyphs">115.860</text>
</svg>
</body></html>
